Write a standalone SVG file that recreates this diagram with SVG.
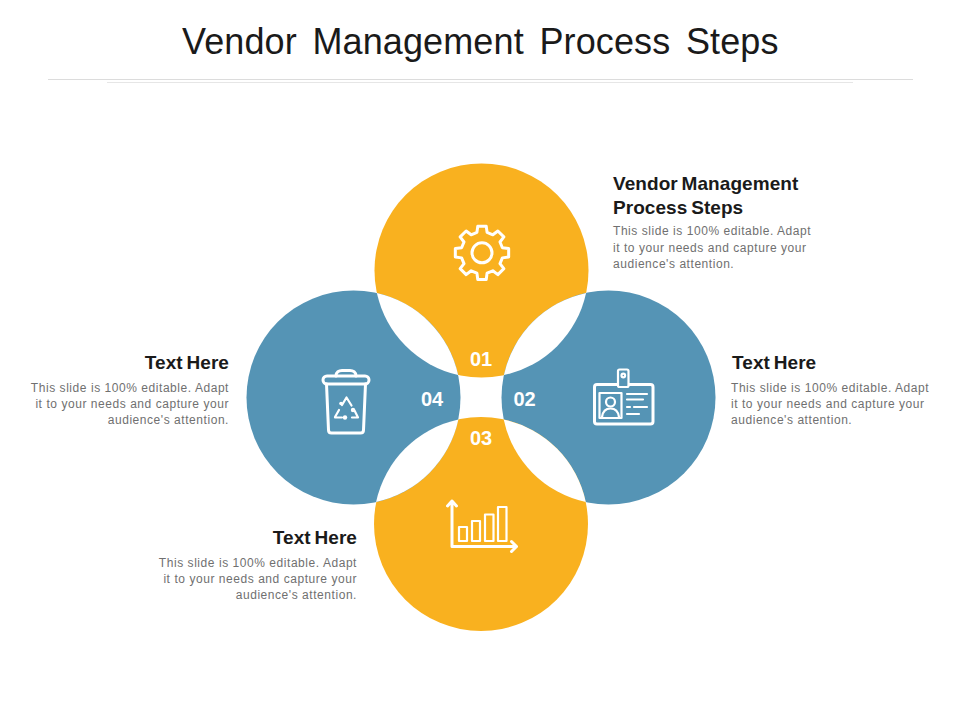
<svg xmlns="http://www.w3.org/2000/svg" width="960" height="720" viewBox="0 0 960 720">
<style>
text{font-family:"Liberation Sans",Arial,sans-serif}
.title{font-size:36px;fill:#1a1a1a;word-spacing:5.500px;letter-spacing:.12px}
.head{font-size:19px;font-weight:700;fill:#1a1a1a;word-spacing:-1.500px;letter-spacing:.06px}
.body{font-size:12px;fill:#707070;letter-spacing:.55px}
.num{font-size:20px;font-weight:700;fill:#fff;text-anchor:middle}
.end{text-anchor:end}
.orange{fill:#f9b11f}
.blue{fill:#5594b5}
.lens{fill:#fff}
.icon{fill:none;stroke:#fff;stroke-width:3;stroke-linecap:round;stroke-linejoin:round}
.thin{stroke-width:2.200}
.dot{fill:#fff}
.rule{stroke:#dcdcdc;stroke-width:1}
</style>
<rect width="960" height="720" fill="#fff"/>
<text class="title" x="182" y="54" id="title">Vendor Management Process Steps</text>
<g id="rules">
<line class="rule" x1="48" y1="79.500" x2="913" y2="79.500"/>
<line class="rule" x1="107" y1="82.500" x2="853" y2="82.500" stroke-opacity=".7"/>
</g>
<g id="node-01">
<circle class="orange" cx="481.500" cy="270.500" r="107"/>
<polygon class="icon" transform="translate(482 252.800)" points="-5.080,-20.380 -4.220,-26.670 4.220,-26.670 5.080,-20.380 10.820,-18 15.870,-21.840 21.840,-15.870 18,-10.820 20.380,-5.080 26.670,-4.220 26.670,4.220 20.380,5.080 18,10.820 21.840,15.870 15.870,21.840 10.820,18 5.080,20.380 4.220,26.670 -4.220,26.670 -5.080,20.380 -10.820,18 -15.870,21.840 -21.840,15.870 -18,10.820 -20.380,5.080 -26.670,4.220 -26.670,-4.220 -20.380,-5.080 -18,-10.820 -21.840,-15.870 -15.870,-21.840 -10.820,-18"/>
<circle class="icon" cx="482" cy="252.800" r="10"/>
<text class="num" x="481" y="366">01</text>
</g>
<g id="node-02">
<circle class="blue" cx="608.500" cy="397.500" r="107"/>
<rect class="icon" x="594.500" y="384.500" width="58.500" height="39.500" rx="2.500"/>
<rect class="icon thin" x="618" y="369.500" width="10.500" height="17.500" rx="1.500" fill="#5594b5" style="fill:#5594b5"/>
<circle class="icon thin" cx="623.300" cy="375.500" r="1.800"/>
<rect class="icon thin" x="599.500" y="393" width="22" height="25"/>
<circle class="icon thin" cx="610.500" cy="402" r="4.500"/>
<path class="icon thin" d="M602 417c1-7 5-8.500 8.500-8.500s7.500 1.500 8.500 8.500"/>
<path class="icon thin" d="M627 394h20M627 399.500h16M627 407h3M634 407h13M627 414h12"/>
<text class="num" x="524.500" y="406">02</text>
</g>
<g id="node-03">
<circle class="orange" cx="481" cy="524" r="107"/>
<path class="icon" d="M452 501v45.500h64.500M447.500 506l4.500-5 4.500 5M511.500 541.500l5 5-5 5"/>
<path class="icon thin" d="M459 527h8v14h-8zM472 521h8v20h-8zM485 514.500h8.500v26.500h-8.500zM498 507h8.500v34h-8.500z"/>
<text class="num" x="481" y="445">03</text>
</g>
<g id="node-04">
<circle class="blue" cx="353.500" cy="397.500" r="107"/>
<path class="icon" d="M336 376c0-4 3-5.500 6-5.500h8c3 0 6 1.500 6 5.500"/>
<rect class="icon" x="323" y="376" width="46" height="8" rx="4"/>
<path class="icon" d="M326.500 384l2 46c0 2 1.500 3 3 3h29c1.500 0 3-1 3-3l2-46"/>
<path class="icon thin" d="M342 405l4.500-7.500 5 8M335 417l4-7M342 417.500h-7M352 417.500h6l-3.500-7"/>
<circle class="dot" cx="341" cy="403.500" r="1.800"/>
<circle class="dot" cx="353" cy="410" r="2.200"/>
<circle class="dot" cx="345" cy="417.500" r="2.200"/>
<text class="num" x="432" y="406">04</text>
</g>
<g id="connectors">
<path class="lens" d="M376.900 293.100A107 107 0 0 1 458.100 374.900A107 107 0 0 1 376.900 293.100z"/>
<path class="lens" d="M503.900 375.100A107 107 0 0 1 586.100 292.900A107 107 0 0 1 503.900 375.100z"/>
<path class="lens" d="M376.100 501.900A107 107 0 0 1 458.400 419.600A107 107 0 0 1 376.100 501.900z"/>
<path class="lens" d="M503.700 419.500A107 107 0 0 1 585.800 502A107 107 0 0 1 503.700 419.500z"/>
</g>
<g id="label-01">
<text class="head" x="613" y="190">Vendor Management</text>
<text class="head" x="613" y="214">Process Steps</text>
<text class="body" x="613" y="235">This slide is 100% editable. Adapt</text>
<text class="body" x="613" y="252">it to your needs and capture your</text>
<text class="body" x="613" y="268">audience's attention.</text>
</g>
<g id="label-02">
<text class="head" x="732" y="369">Text Here</text>
<text class="body" x="731" y="392">This slide is 100% editable. Adapt</text>
<text class="body" x="731" y="408">it to your needs and capture your</text>
<text class="body" x="731" y="424">audience's attention.</text>
</g>
<g id="label-03">
<text class="head end" x="357" y="544">Text Here</text>
<text class="body end" x="357" y="567">This slide is 100% editable. Adapt</text>
<text class="body end" x="357" y="583">it to your needs and capture your</text>
<text class="body end" x="357" y="599">audience's attention.</text>
</g>
<g id="label-04">
<text class="head end" x="229" y="369">Text Here</text>
<text class="body end" x="229" y="392">This slide is 100% editable. Adapt</text>
<text class="body end" x="229" y="408">it to your needs and capture your</text>
<text class="body end" x="229" y="424">audience's attention.</text>
</g>
</svg>
